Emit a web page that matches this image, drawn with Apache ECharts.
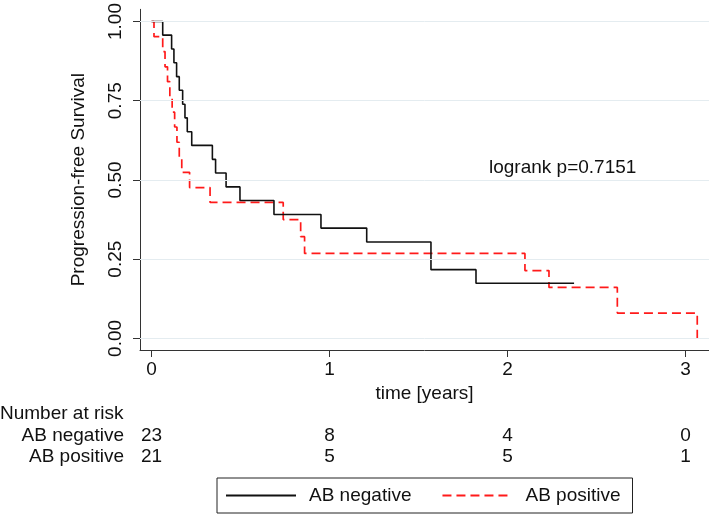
<!DOCTYPE html>
<html><head><meta charset="utf-8">
<script src="https://cdn.jsdelivr.net/npm/echarts@6/dist/echarts.min.js"></script>
<style>html,body{margin:0;padding:0;background:#fff}#c{width:709px;height:514px}</style>
</head><body><div id="c"></div>
<script>
// AB negative (n=23) Kaplan-Meier steps
const negTimes = [0, 0.063, 0.113, 0.126, 0.141, 0.156, 0.175, 0.188, 0.201, 0.226, 0.342, 0.360, 0.419, 0.497, 0.688, 0.952, 1.209, 1.570, 1.823, 2.374];
const negSurv  = [1, 0.957, 0.913, 0.870, 0.826, 0.783, 0.739, 0.696, 0.652, 0.609, 0.565, 0.522, 0.478, 0.435, 0.391, 0.348, 0.304, 0.217, 0.174, 0.174];
// AB positive (n=21)
const posTimes = [0, 0.014, 0.063, 0.076, 0.090, 0.103, 0.116, 0.130, 0.143, 0.156, 0.170, 0.214, 0.329, 0.740, 0.838, 0.860, 2.098, 2.233, 2.617, 3.066];
const posSurv  = [1, 0.952, 0.905, 0.857, 0.810, 0.762, 0.714, 0.667, 0.619, 0.571, 0.524, 0.476, 0.429, 0.375, 0.321, 0.268, 0.214, 0.161, 0.080, 0];

const xTicks = [0, 1, 2, 3];
const yTicks = [0, 0.25, 0.5, 0.75, 1];
const riskTimes = [0, 1, 2, 3];
const riskNeg = [23, 8, 4, 0];
const riskPos = [21, 5, 5, 1];
const groupNames = ['AB negative', 'AB positive'];
const annotation = 'logrank p=0.7151';

const FONT = 'Liberation Sans, Arial, sans-serif';
const FS = 19;
const chart = echarts.init(document.getElementById('c'), null, {renderer: 'canvas'});

const option = {
  animation: false,
  backgroundColor: '#fff',
  textStyle: {fontFamily: FONT},
  grid: {left: 140, right: 0, top: 6, bottom: 164, containLabel: false},
  legend: {
    data: groupNames,
    left: 217, top: 478,
    orient: 'horizontal',
    itemWidth: 70, itemHeight: 14, itemGap: 30,
    padding: [8, 12, 8, 8],
    borderColor: '#222', borderWidth: 1, borderRadius: 0,
    itemStyle: {opacity: 0},
    textStyle: {fontFamily: FONT, fontSize: FS, color: '#111', padding: [0, 0, 0, 8]},
    selectedMode: false
  },
  xAxis: {
    type: 'value', min: -0.0646, max: 3.132,
    axisLine: {onZero: false, lineStyle: {color: '#333', width: 1}},
    axisTick: {customValues: xTicks, length: 7, lineStyle: {color: '#333'}},
    axisLabel: {customValues: xTicks, margin: 10, fontSize: FS, color: '#111', fontFamily: FONT,
      formatter: v => String(Math.round(v))},
    splitLine: {show: false},
    name: 'time [years]', nameLocation: 'middle', nameGap: 31,
    nameTextStyle: {fontSize: FS, color: '#111', fontFamily: FONT}
  },
  yAxis: {
    type: 'value', min: -0.0366, max: 1.0384,
    axisLine: {show: true, onZero: false, lineStyle: {color: '#333', width: 1}},
    axisTick: {show: true, customValues: yTicks, length: 7, lineStyle: {color: '#333'}},
    axisLabel: {customValues: yTicks, rotate: 90, margin: 15, fontSize: FS, color: '#111', fontFamily: FONT,
      formatter: v => v.toFixed(2)},
    splitLine: {show: false},
    name: 'Progression-free Survival', nameLocation: 'middle', nameGap: 52, nameRotate: 90,
    nameTextStyle: {fontSize: FS, color: '#111', fontFamily: FONT}
  },
  series: [
    {
      name: 'grid', type: 'line', data: [], z: 1, silent: true,
      markLine: {
        silent: true, symbol: ['none', 'none'], label: {show: false},
        lineStyle: {color: '#e4ecf0', width: 1, type: 'solid'},
        data: yTicks.map(v => ({yAxis: v}))
      }
    },
    {
      name: groupNames[0], type: 'line', step: 'end', symbol: 'none', z: 4,
      data: negTimes.map((t, i) => [t, negSurv[i]]),
      lineStyle: {color: '#111', width: 1.6, type: 'solid'},
      itemStyle: {color: '#111'}
    },
    {
      name: groupNames[1], type: 'line', step: 'end', symbol: 'none', z: 3,
      data: posTimes.map((t, i) => [t, posSurv[i]]),
      lineStyle: {color: '#ff1a1a', width: 1.7, type: [9, 5]},
      itemStyle: {color: '#ff1a1a'}
    }
  ]
};
chart.setOption(option);

const px = t => chart.convertToPixel({xAxisIndex: 0}, t);
const py = v => chart.convertToPixel({yAxisIndex: 0}, v);
const txt = (text, x, y, align) => ({
  type: 'text', x: x, y: y, silent: true,
  style: {text: text, fill: '#111', font: FS + 'px ' + FONT, textAlign: align, textVerticalAlign: 'middle'}
});
const g = [];
g.push(txt('Number at risk', 0, 413.5, 'left'));
g.push(txt(groupNames[0], 124, 435.5, 'right'));
g.push(txt(groupNames[1], 124, 456.7, 'right'));
riskTimes.forEach((t, i) => {
  g.push(txt(String(riskNeg[i]), px(t), 435.5, 'center'));
  g.push(txt(String(riskPos[i]), px(t), 456.7, 'center'));
});
g.push(txt(annotation, px(1.896), py(0.5375), 'left'));
chart.setOption({graphic: g});
</script></body></html>
